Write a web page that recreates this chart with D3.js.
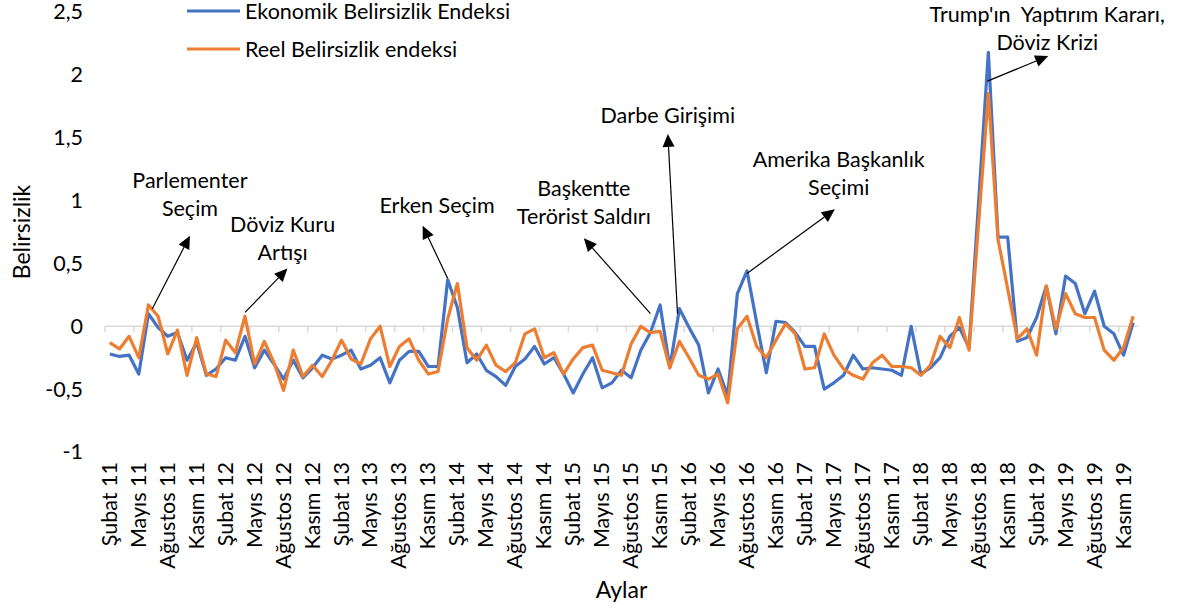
<!DOCTYPE html>
<html>
<head>
<meta charset="utf-8">
<script src="https://cdn.jsdelivr.net/npm/d3@7"></script>
<style>
  body { margin: 0; background: #fff; }
  text { font-family: Lato, "Open Sans", sans-serif; fill: #000; white-space: pre; }
</style>
</head>
<body>
<div id="chart"></div>
<script>
// monthly series, Şubat 2011 .. Aralık 2019
let ekonomik = [
  -0.22, -0.24, -0.23, -0.38, 0.10, -0.01, -0.08, -0.05, -0.27, -0.13,
  -0.39, -0.34, -0.25, -0.27, -0.08, -0.33, -0.19, -0.30, -0.42, -0.27,
  -0.41, -0.33, -0.23, -0.26, -0.23, -0.19, -0.34, -0.31, -0.25, -0.45,
  -0.27, -0.20, -0.20, -0.32, -0.32, 0.37, 0.15, -0.29, -0.22, -0.35,
  -0.40, -0.47, -0.32, -0.26, -0.16, -0.30, -0.25, -0.38, -0.53, -0.38,
  -0.25, -0.49, -0.45, -0.35, -0.41, -0.19, -0.05, 0.17, -0.33, 0.14,
  -0.01, -0.15, -0.53, -0.34, -0.55, 0.26, 0.44, 0.03, -0.37, 0.04,
  0.03, -0.05, -0.16, -0.16, -0.50, -0.45, -0.39, -0.23, -0.34, -0.33,
  -0.34, -0.35, -0.39, 0.00, -0.38, -0.33, -0.25, -0.08, -0.01, -0.17,
  1.00, 2.18, 0.71, 0.71, -0.12, -0.09, 0.07, 0.32, -0.06, 0.40,
  0.34, 0.10, 0.28, 0.00, -0.06, -0.23, 0.03
];

let reel = [
  -0.13, -0.18, -0.08, -0.25, 0.17, 0.08, -0.22, -0.03, -0.39, -0.09,
  -0.38, -0.40, -0.11, -0.21, 0.08, -0.30, -0.12, -0.29, -0.51, -0.19,
  -0.40, -0.31, -0.40, -0.27, -0.11, -0.26, -0.30, -0.10, 0.00, -0.32,
  -0.16, -0.10, -0.27, -0.38, -0.36, 0.06, 0.34, -0.17, -0.27, -0.15,
  -0.31, -0.36, -0.29, -0.06, -0.02, -0.25, -0.21, -0.38, -0.26, -0.17,
  -0.15, -0.35, -0.37, -0.39, -0.14, 0.00, -0.05, -0.04, -0.33, -0.12,
  -0.25, -0.39, -0.42, -0.38, -0.61, -0.02, 0.08, -0.16, -0.25, -0.11,
  0.02, -0.06, -0.34, -0.33, -0.06, -0.23, -0.34, -0.39, -0.42, -0.29,
  -0.23, -0.32, -0.32, -0.33, -0.39, -0.31, -0.08, -0.17, 0.07, -0.19,
  0.83, 1.85, 0.69, 0.30, -0.10, -0.02, -0.23, 0.32, -0.02, 0.26,
  0.10, 0.07, 0.07, -0.19, -0.27, -0.17, 0.08
];

let yTicks = [-1, -0.5, 0, 0.5, 1, 1.5, 2, 2.5];

let tickLabels = [
  'Şubat 11', 'Mayıs 11', 'Ağustos 11', 'Kasım 11',
  'Şubat 12', 'Mayıs 12', 'Ağustos 12', 'Kasım 12',
  'Şubat 13', 'Mayıs 13', 'Ağustos 13', 'Kasım 13',
  'Şubat 14', 'Mayıs 14', 'Ağustos 14', 'Kasım 14',
  'Şubat 15', 'Mayıs 15', 'Ağustos 15', 'Kasım 15',
  'Şubat 16', 'Mayıs 16', 'Ağustos 16', 'Kasım 16',
  'Şubat 17', 'Mayıs 17', 'Ağustos 17', 'Kasım 17',
  'Şubat 18', 'Mayıs 18', 'Ağustos 18', 'Kasım 18',
  'Şubat 19', 'Mayıs 19', 'Ağustos 19', 'Kasım 19'
];

// annotations: text lines, text centre (month, value), arrow tail and tip (month, value)
let notes = [
  { lines: ['Parlementer', 'Seçim'], at: [8.8, 1.10], tail: [4.9, 0.14], tip: [8.8, 0.72] },
  { lines: ['Döviz Kuru', 'Artışı'], at: [18.4, 0.75], tail: [14.5, 0.11], tip: [18.9, 0.46] },
  { lines: ['Erken Seçim'], at: [34.4, 0.90], tail: [35.5, 0.38], tip: [32.9, 0.80] },
  { lines: ['Başkentte', 'Terörist Saldırı'], at: [49.6, 1.04], tail: [56.5, 0.10], tip: [49.6, 0.70] },
  { lines: ['Darbe Girişimi'], at: [58.3, 1.62], tail: [59.3, 0.10], tip: [58.3, 1.53] },
  { lines: ['Amerika Başkanlık', 'Seçimi'], at: [76.0, 1.27], tail: [66.5, 0.42], tip: [75.6, 0.93] },
  { lines: ["Trump'ın  Yaptırım Kararı,", 'Döviz Krizi'], at: [97.6, 2.42], tail: [91.4, 1.95], tip: [97.7, 2.15] }
];

let seriesNames = ['Ekonomik Belirsizlik Endeksi', 'Reel Belirsizlik endeksi'];
let colors = ['#4472C4', '#ED7D31'];

let svgWidth = 1187;
let svgHeight = 611;

let margin = { top: 12, right: 49, bottom: 159, left: 105 };
let width = svgWidth - margin.left - margin.right;
let height = svgHeight - margin.top - margin.bottom;

let svg = d3.select('#chart').append('svg')
    .attr('width', svgWidth)
    .attr('height', svgHeight);

let chartGroup = svg.append('g')
    .attr('transform', `translate(${margin.left}, ${margin.top})`);

let nMonths = ekonomik.length;

let xScale = d3.scaleLinear()
    .domain([0, nMonths])
    .range([0, width]);

let yScale = d3.scaleLinear()
    .domain([-1, 2.5])
    .range([height, 0]);

// Turkish style decimals, plain hyphen for minus
let comma = v => String(v).replace('.', ',');

// y axis labels only
let leftAxis = d3.axisLeft(yScale)
    .tickValues(yTicks)
    .tickSize(0)
    .tickPadding(22)
    .tickFormat(comma);

chartGroup.append('g')
    .call(leftAxis)
    .call(g => g.select('.domain').remove())
    .selectAll('text')
    .style('font-size', '21.5px')
    .style('font-family', 'Lato, sans-serif')
    .attr('fill', '#000');

// zero line with ticks every 3 months
let zeroY = yScale(0);
chartGroup.append('line')
    .attr('x1', 0).attr('x2', width)
    .attr('y1', zeroY).attr('y2', zeroY)
    .attr('stroke', '#d9d9d9')
    .attr('stroke-width', 1.5);

chartGroup.selectAll('.xtick')
    .data(d3.range(0, nMonths, 3))
    .enter().append('line')
    .attr('class', 'xtick')
    .attr('x1', d => xScale(d)).attr('x2', d => xScale(d))
    .attr('y1', zeroY).attr('y2', zeroY + 6)
    .attr('stroke', '#d9d9d9')
    .attr('stroke-width', 1.5);

// month labels under the plot
chartGroup.selectAll('.xlabel')
    .data(tickLabels)
    .enter().append('text')
    .attr('class', 'xlabel')
    .attr('transform', (d, i) => `translate(${xScale(i * 3 + 0.5) + 7}, ${height + 10}) rotate(-90)`)
    .attr('text-anchor', 'end')
    .style('font-size', '21.5px')
    .text(d => d);

// lines
let line = d3.line()
    .x((d, i) => xScale(i + 0.5))
    .y(d => yScale(d));

[ekonomik, reel].forEach((s, k) => {
    chartGroup.append('path')
        .datum(s)
        .attr('fill', 'none')
        .attr('stroke', colors[k])
        .attr('stroke-width', 3.2)
        .attr('stroke-linejoin', 'round')
        .attr('d', line);
});

// annotations
function arrow(g, x1, y1, x2, y2) {
    let dx = x2 - x1, dy = y2 - y1;
    let len = Math.sqrt(dx * dx + dy * dy);
    let ux = dx / len, uy = dy / len;
    let headL = 13, headW = 6;
    let bx = x2 - ux * headL, by = y2 - uy * headL;
    g.append('line')
        .attr('x1', x1).attr('y1', y1)
        .attr('x2', bx).attr('y2', by)
        .attr('stroke', '#000')
        .attr('stroke-width', 1.2);
    g.append('path')
        .attr('d', `M${x2},${y2}L${bx - uy * headW},${by + ux * headW}L${bx + uy * headW},${by - ux * headW}Z`)
        .attr('fill', '#000');
}

let noteGroup = chartGroup.append('g');
notes.forEach(n => {
    let cx = xScale(n.at[0]);
    let cy = yScale(n.at[1]);
    n.lines.forEach((t, j) => {
        noteGroup.append('text')
            .attr('x', cx)
            .attr('y', cy + j * 28)
            .attr('text-anchor', 'middle')
            .style('font-size', '21.5px')
            .text(t);
    });
    arrow(noteGroup, xScale(n.tail[0]), yScale(n.tail[1]), xScale(n.tip[0]), yScale(n.tip[1]));
});

// legend
let legend = svg.append('g');
seriesNames.forEach((name, k) => {
    let ly = 11 + k * 38;
    legend.append('line')
        .attr('x1', 187).attr('x2', 240)
        .attr('y1', ly).attr('y2', ly)
        .attr('stroke', colors[k])
        .attr('stroke-width', 3.2);
    legend.append('text')
        .attr('x', 245)
        .attr('y', ly + 8)
        .style('font-size', '21.5px')
        .text(name);
});

// axis titles
svg.append('text')
    .attr('transform', `translate(30, ${margin.top + height / 2}) rotate(-90)`)
    .attr('text-anchor', 'middle')
    .style('font-size', '23px')
    .text('Belirsizlik');

svg.append('text')
    .attr('x', margin.left + width / 2)
    .attr('y', 598)
    .attr('text-anchor', 'middle')
    .style('font-size', '23px')
    .text('Aylar');
</script>
</body>
</html>
